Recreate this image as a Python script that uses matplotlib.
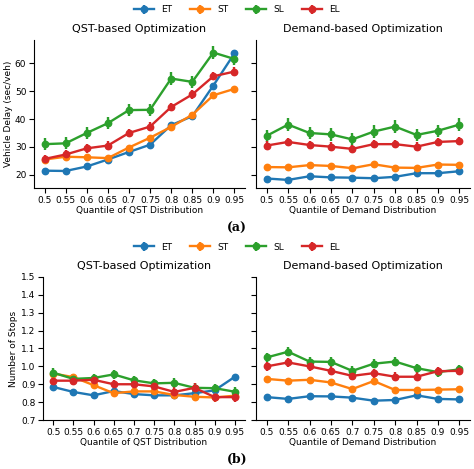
import matplotlib
matplotlib.use("Agg")
import matplotlib.pyplot as plt

quantiles = ["0.5","0.55","0.6","0.65","0.7","0.75","0.8","0.85","0.9","0.95"]
series = ["ET","ST","SL","EL"]
colors = ["#1f77b4","#ff7f0e","#2ca02c","#d62728"]

delay_qst = {
 "ET":[21.5,21.4,23.0,25.5,28.2,30.8,37.8,41.0,52.0,63.5],
 "ST":[25.5,26.5,26.3,26.0,29.8,33.3,37.2,41.5,48.5,50.8],
 "SL":[31.0,31.3,35.0,38.5,43.2,43.3,54.5,53.3,63.8,61.5],
 "EL":[25.7,27.3,29.5,30.5,35.0,37.3,44.3,48.8,55.3,57.0]}
delay_dem = {
 "ET":[18.7,18.2,19.5,19.1,19.0,18.8,19.3,20.6,20.6,21.3],
 "ST":[22.8,22.7,23.5,23.2,22.4,23.8,22.6,22.5,23.7,23.6],
 "SL":[34.0,38.0,35.0,34.5,32.7,35.5,37.3,34.3,35.8,38.0],
 "EL":[30.5,31.8,30.7,30.1,29.3,31.0,31.0,30.1,31.8,32.1]}
delay_err = {"ET":0.8,"ST":0.7,"SL":2.2,"EL":1.5}

stops_qst = {
 "ET":[0.885,0.857,0.838,0.862,0.845,0.838,0.838,0.850,0.866,0.942],
 "ST":[0.960,0.940,0.895,0.850,0.860,0.860,0.840,0.830,0.826,0.836],
 "SL":[0.965,0.930,0.935,0.955,0.922,0.905,0.908,0.880,0.878,0.858],
 "EL":[0.920,0.920,0.925,0.900,0.900,0.888,0.857,0.880,0.828,0.828]}
stops_dem = {
 "ET":[0.828,0.818,0.833,0.832,0.825,0.808,0.812,0.838,0.818,0.815],
 "ST":[0.930,0.920,0.925,0.910,0.873,0.918,0.868,0.868,0.870,0.872],
 "SL":[1.050,1.082,1.027,1.025,0.975,1.015,1.027,0.990,0.968,0.983],
 "EL":[1.000,1.022,1.000,0.975,0.947,0.962,0.942,0.942,0.973,0.975]}
stops_err = {"ET":0.01,"ST":0.01,"SL":0.025,"EL":0.025}

W, H = 474, 469
fig = plt.figure(figsize=(W/100, H/100), dpi=100)
plt.rcParams['font.size'] = 6.5

def box(x0, y0, x1, y1):
    return [x0/W, 1-y1/H, (x1-x0)/W, (y1-y0)/H]

def draw(ax, data, errs, title, xlabel):
    x = range(len(quantiles))
    for s, c in zip(series, colors):
        ax.errorbar(x, data[s], yerr=errs[s], color=c, marker='o', ms=4.6,
                    lw=1.7, elinewidth=1.7, label=s)
    ax.set_xticks(list(x))
    ax.set_xticklabels(quantiles)
    ax.set_xlim(-0.5, 9.5)
    ax.set_title(title, fontsize=8)
    ax.set_xlabel(xlabel, fontsize=6.5, labelpad=1)
    for sp in ["top","right"]:
        ax.spines[sp].set_visible(False)
    ax.tick_params(labelsize=6.5, pad=2)

a1 = fig.add_axes(box(34, 40, 245, 188))
a2 = fig.add_axes(box(256, 40, 470, 188), sharey=a1)
draw(a1, delay_qst, delay_err, "QST-based Optimization", "Quantile of QST Distribution")
draw(a2, delay_dem, delay_err, "Demand-based Optimization", "Quantile of Demand Distribution")
a1.set_ylim(15.3, 68.3)
a1.set_yticks([20,30,40,50,60])
a1.set_ylabel("Vehicle Delay (sec/veh)", fontsize=6.5, labelpad=1)
plt.setp(a2.get_yticklabels(), visible=False)
h, l = a1.get_legend_handles_labels()
fig.legend(h, l, loc='center', bbox_to_anchor=(0.5, 1-10/H), ncol=4, frameon=False,
           fontsize=6.5, handlelength=2.2, columnspacing=2)
fig.text(0.5, 1-228/H, "(a)", ha='center', va='center', fontsize=9, family='DejaVu Serif', weight='bold')

b1 = fig.add_axes(box(43, 277, 245, 420))
b2 = fig.add_axes(box(256, 277, 470, 420), sharey=b1)
draw(b1, stops_qst, stops_err, "QST-based Optimization", "Quantile of QST Distribution")
draw(b2, stops_dem, stops_err, "Demand-based Optimization", "Quantile of Demand Distribution")
b1.set_ylim(0.7, 1.5)
b1.set_yticks([0.7,0.8,0.9,1.0,1.1,1.2,1.3,1.4,1.5])
b1.set_ylabel("Number of Stops", fontsize=6.5, labelpad=2)
plt.setp(b2.get_yticklabels(), visible=False)
fig.legend(h, l, loc='center', bbox_to_anchor=(0.5, 1-247/H), ncol=4, frameon=False,
           fontsize=6.5, handlelength=2.2, columnspacing=2)
fig.text(0.5, 1-459/H, "(b)", ha='center', va='center', fontsize=9, family='DejaVu Serif', weight='bold')

fig.savefig("out.png", dpi=100)
